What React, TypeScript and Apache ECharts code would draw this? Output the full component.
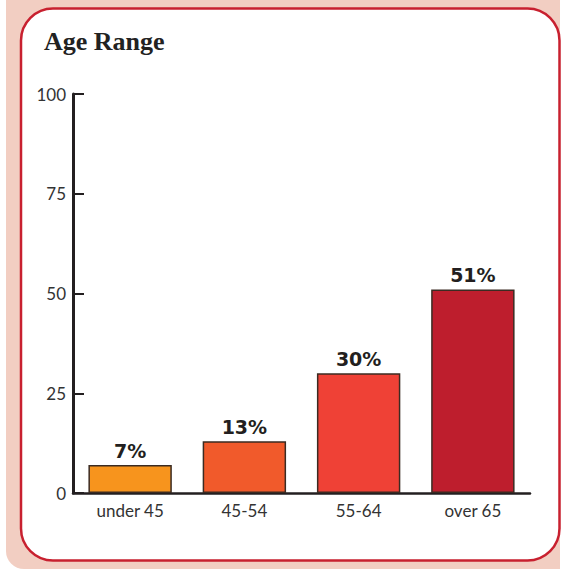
import React, { useEffect, useRef } from "react";
import * as echarts from "echarts";

const categories = ["under 45", "45-54", "55-64", "over 65"];
const values = [7, 13, 30, 51];
const barColors = ["#f7941d", "#f15a2b", "#ef4136", "#be1e2d"];
const yTicks = [0, 25, 50, 75, 100];

export default function App() {
  const ref = useRef<HTMLDivElement>(null);
  useEffect(() => {
    const chart = echarts.init(ref.current!, null, { renderer: "svg" });
    chart.setOption({
      animation: false,
      backgroundColor: "#ffffff",
      graphic: [
        {
          type: "rect",
          z: -10,
          silent: true,
          shape: { x: 6, y: -20, width: 554, height: 589, r: [0, 0, 0, 18] },
          style: { fill: "#f2cec2" },
        },
        {
          type: "rect",
          z: -9,
          silent: true,
          shape: { x: 21, y: 8.5, width: 538.5, height: 552, r: 32 },
          style: { fill: "#ffffff", stroke: "#c8202f", lineWidth: 2.5 },
        },
        {
          type: "text",
          left: 44,
          top: 28,
          style: {
            text: "Age Range",
            font: "bold 26px 'Liberation Serif', serif",
            fill: "#222222",
          },
        },
      ],
      grid: { left: 73, top: 94, right: 33, bottom: 76, containLabel: false },
      xAxis: {
        type: "category",
        data: categories,
        axisLine: { show: true, lineStyle: { color: "#231f20", width: 2.5 } },
        axisTick: { show: false },
        axisLabel: {
          color: "#333333",
          fontSize: 17,
          fontFamily: "Lato, sans-serif",
          margin: 9,
        },
      },
      yAxis: {
        type: "value",
        min: yTicks[0],
        max: yTicks[yTicks.length - 1],
        interval: 25,
        splitLine: { show: false },
        axisLine: { show: true, lineStyle: { color: "#231f20", width: 3 } },
        axisTick: {
          show: true,
          inside: true,
          length: 11,
          lineStyle: { color: "#231f20", width: 2 },
        },
        axisLabel: {
          color: "#333333",
          fontSize: 17,
          fontFamily: "Lato, sans-serif",
          margin: 7,
        },
      },
      series: [
        {
          type: "bar",
          data: values.map((v, i) => ({
            value: v,
            itemStyle: { color: barColors[i] },
          })),
          barCategoryGap: "27%",
          itemStyle: { borderColor: "#3b2b22", borderWidth: 1.5 },
          label: {
            show: true,
            position: "top",
            distance: 5,
            formatter: "{c}%",
            color: "#231f20",
            fontSize: 19,
            fontWeight: "bold",
            fontFamily: "'DejaVu Sans', sans-serif",
          },
        },
      ],
    });
    return () => chart.dispose();
  }, []);
  return (
    <div
      ref={ref}
      style={{ position: "fixed", left: 0, top: 0, width: 563, height: 569 }}
    />
  );
}
